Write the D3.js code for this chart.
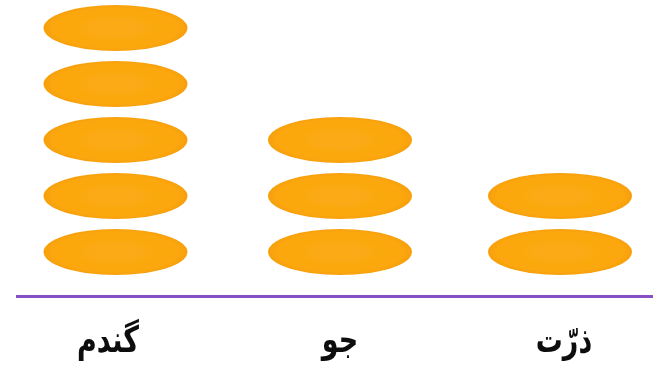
<!DOCTYPE html>
<html lang="fa">
<head>
<meta charset="UTF-8">
<title>Pictograph</title>
<script src="https://d3js.org/d3.v7.min.js"></script>
<style>
  html, body { margin: 0; padding: 0; background: #fff; overflow: hidden; }
  svg { display: block; }
  .baseline { stroke: #8650c4; stroke-width: 3px; }
  .label { font-family: "DejaVu Sans", sans-serif; font-weight: bold; font-size: 27px; fill: #111; text-anchor: middle; }
</style>
</head>
<body>
<svg id="chart" width="653" height="378"></svg>
<script>
  // categories and how many discs each one has
  const categories = ['گندم', 'جو', 'ذرّت'];
  const counts = [5, 3, 2];

  const width = 653;
  const baseY = 296.5;
  const columnCentres = [115.5, 340, 560];
  const labelCentres = [108, 340, 564]; // labels sit a little off the columns

  const svg = d3.select('#chart');

  const defs = svg.append('defs');
  const grad = defs.append('radialGradient').attr('id', 'disc');
  grad.append('stop').attr('offset', '0%').attr('stop-color', '#fcab14');
  grad.append('stop').attr('offset', '88%').attr('stop-color', '#fba70f');
  grad.append('stop').attr('offset', '100%').attr('stop-color', '#f79f08');
  defs.append('filter').attr('id', 'soft')
    .append('feGaussianBlur').attr('stdDeviation', 0.75);
  defs.append('filter').attr('id', 'softText')
    .append('feGaussianBlur').attr('stdDeviation', 0.4);

  const x = d3.scaleOrdinal().domain(categories).range(columnCentres);
  const xLabel = d3.scaleOrdinal().domain(categories).range(labelCentres);
  const y = d3.scaleLinear().domain([0, 5]).range([baseY - 16.5, 0]);

  const discs = categories.flatMap((c, i) => d3.range(counts[i]).map(n => ({ category: c, n })));

  svg.append('g')
    .attr('filter', 'url(#soft)')
    .selectAll('ellipse')
    .data(discs)
    .enter()
    .append('ellipse')
    .attr('cx', d => x(d.category))
    .attr('cy', d => y(d.n + 0.5))
    .attr('rx', 72)
    .attr('ry', 23)
    .attr('fill', 'url(#disc)');

  svg.append('line')
    .attr('class', 'baseline')
    .attr('x1', 16)
    .attr('x2', width)
    .attr('y1', baseY)
    .attr('y2', baseY);

  // the original lettering is much taller than DejaVu, so stretch it upward
  svg.append('g')
    .attr('filter', 'url(#softText)')
    .selectAll('text')
    .data(categories)
    .enter()
    .append('text')
    .attr('class', 'label')
    .attr('transform', d => `translate(${xLabel(d)},${baseY + 55}) scale(1,1.35)`)
    .attr('direction', 'rtl')
    .text(d => d);
</script>
</body>
</html>
